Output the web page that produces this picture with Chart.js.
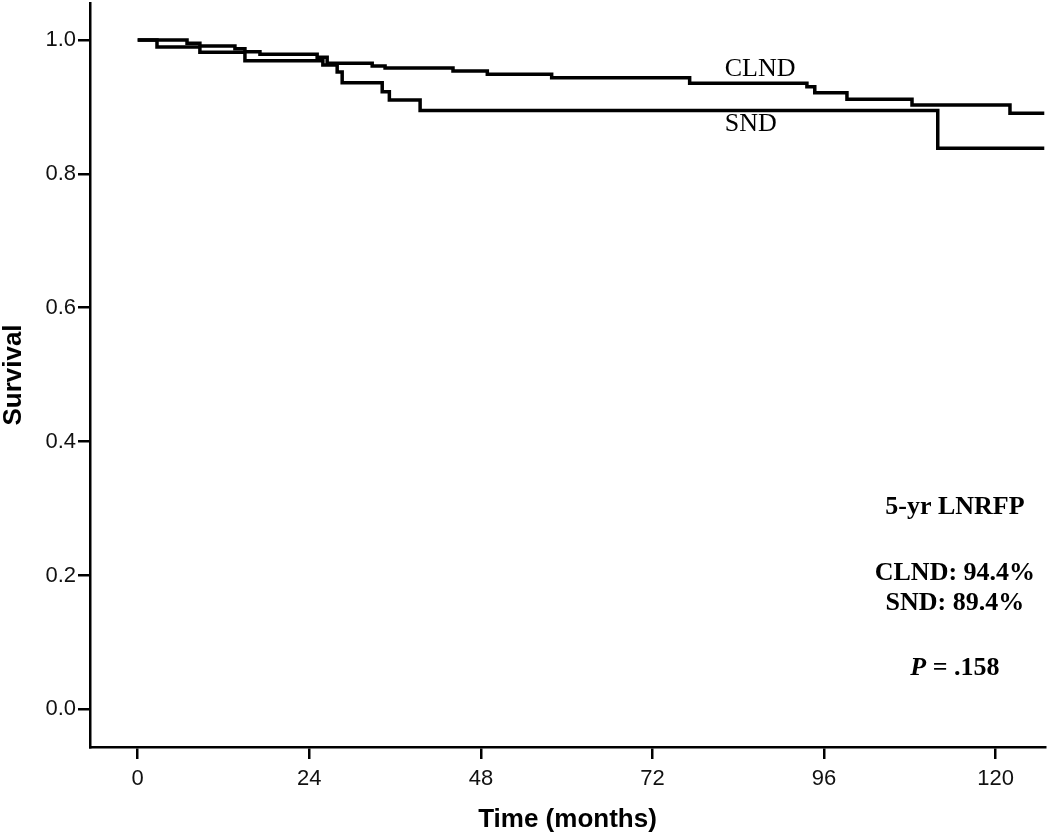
<!DOCTYPE html>
<html lang="en">
<head>
    <meta charset="UTF-8">
    <title>LNRFP Kaplan-Meier</title>
    <script src="https://cdn.jsdelivr.net/npm/chart.js"></script>
    <style>
        html, body { margin: 0; padding: 0; background: #fff; }
        #wrap { width: 1050px; height: 839px; }
    </style>
</head>
<body>
<div id="wrap"><canvas id="kmChart" width="1050" height="839"></canvas></div>
<script>
    // --- data ---
    const clndMonths   = [0, 6.9, 8.7, 13.6, 15.0, 17.1, 25.1, 26.5, 32.8, 34.6, 44.1, 48.9, 57.9, 77.2, 93.6, 94.7, 99.2, 108.3, 122.0, 126.8];
    const clndSurvival = [1.0, 0.9951, 0.9910, 0.9870, 0.9825, 0.9786, 0.9742, 0.9652, 0.9611, 0.9581, 0.9536, 0.9488, 0.9437, 0.9353, 0.9302, 0.9213, 0.9114, 0.9029, 0.8905, 0.8905];

    const sndMonths   = [0, 2.7, 8.7, 15.0, 25.9, 27.9, 28.6, 34.2, 35.2, 39.5, 111.9, 126.8];
    const sndSurvival = [1.0, 0.9895, 0.9816, 0.9691, 0.9627, 0.9522, 0.9362, 0.9228, 0.9104, 0.8947, 0.8382, 0.8382];

    const xTicks = [0, 24, 48, 72, 96, 120];
    const yTicks = [0.0, 0.2, 0.4, 0.6, 0.8, 1.0];

    const toPoints = (xs, ys) => xs.map((x, i) => ({ x: x, y: ys[i] }));

    // text drawn on the plot, placed in data units
    const notes = [
        { text: 'CLND', x: 82.1, y: 0.957, align: 'left', bold: false },
        { text: 'SND', x: 82.1, y: 0.8745, align: 'left', bold: false },
        { text: '5-yr LNRFP', x: 114.3, y: 0.3015, align: 'center', bold: true },
        { text: 'CLND: 94.4%', x: 114.3, y: 0.2037, align: 'center', bold: true },
        { text: 'SND: 89.4%', x: 114.3, y: 0.1581, align: 'center', bold: true }
    ];
    const pNote = { x: 114.3, y: 0.0607 };

    const notesPlugin = {
        id: 'notes',
        afterDraw(chart) {
            const ctx = chart.ctx;
            const xs = chart.scales.x, ys = chart.scales.y;
            ctx.save();
            ctx.fillStyle = '#000';
            ctx.textBaseline = 'middle';
            notes.forEach(n => {
                ctx.font = (n.bold ? 'bold ' : '') + '26px "Liberation Serif", "Times New Roman", serif';
                ctx.textAlign = n.align;
                ctx.fillText(n.text, xs.getPixelForValue(n.x), ys.getPixelForValue(n.y));
            });
            // "P = .158" with italic P
            const italic = 'italic bold 26px "Liberation Serif", "Times New Roman", serif';
            const upright = 'bold 26px "Liberation Serif", "Times New Roman", serif';
            ctx.font = italic;
            const wP = ctx.measureText('P').width;
            ctx.font = upright;
            const rest = ' = .158';
            const wR = ctx.measureText(rest).width;
            let cx = xs.getPixelForValue(pNote.x) - (wP + wR) / 2;
            const cy = ys.getPixelForValue(pNote.y);
            ctx.textAlign = 'left';
            ctx.font = italic;
            ctx.fillText('P', cx, cy);
            ctx.font = upright;
            ctx.fillText(rest, cx + wP, cy);
            ctx.restore();
        }
    };

    const axisGrid = {
        display: true,
        drawOnChartArea: false,
        drawTicks: true,
        tickLength: 12,
        tickColor: '#000',
        color: '#000',
        lineWidth: 2.5
    };
    const axisBorder = { display: true, color: '#000', width: 2.5 };

    new Chart(document.getElementById('kmChart'), {
        type: 'line',
        data: {
            datasets: [{
                label: 'CLND',
                data: toPoints(clndMonths, clndSurvival),
                borderColor: '#000',
                borderWidth: 3.5,
                stepped: 'before',
                pointRadius: 0,
                fill: false
            }, {
                label: 'SND',
                data: toPoints(sndMonths, sndSurvival),
                borderColor: '#000',
                borderWidth: 3.5,
                stepped: 'before',
                pointRadius: 0,
                fill: false
            }]
        },
        options: {
            responsive: false,
            animation: false,
            devicePixelRatio: 1,
            layout: { padding: { top: 3, right: 5, left: 0, bottom: 0 } },
            plugins: {
                legend: { display: false },
                tooltip: { enabled: false }
            },
            scales: {
                x: {
                    type: 'linear',
                    min: -6.67,
                    max: 126.9,
                    afterBuildTicks: s => { s.ticks = xTicks.map(v => ({ value: v })); },
                    afterFit: s => { s.height = 92; s.paddingLeft = 0; s.paddingRight = 0; },
                    grid: axisGrid,
                    border: axisBorder,
                    ticks: {
                        color: '#111',
                        padding: 7,
                        maxRotation: 0,
                        font: { family: '"Liberation Sans", Arial, sans-serif', size: 22 },
                        callback: v => String(v)
                    },
                    title: {
                        display: true,
                        text: 'Time (months)',
                        color: '#000',
                        padding: { top: 0, bottom: 4 },
                        font: { family: '"Liberation Sans", Arial, sans-serif', size: 26, weight: 'bold' }
                    }
                },
                y: {
                    type: 'linear',
                    min: -0.0563,
                    max: 1.0553,
                    afterBuildTicks: s => { s.ticks = yTicks.map(v => ({ value: v })); },
                    afterFit: s => { s.width = 90; s.paddingTop = 0; s.paddingBottom = 0; },
                    grid: axisGrid,
                    border: axisBorder,
                    ticks: {
                        color: '#111',
                        padding: 2,
                        font: { family: '"Liberation Sans", Arial, sans-serif', size: 22 },
                        callback: v => Number(v).toFixed(1)
                    },
                    title: {
                        display: true,
                        text: 'Survival',
                        color: '#000',
                        padding: { top: 0, bottom: 0 },
                        font: { family: '"Liberation Sans", Arial, sans-serif', size: 26, weight: 'bold', lineHeight: 1.1 }
                    }
                }
            }
        },
        plugins: [notesPlugin]
    });
</script>
</body>
</html>
